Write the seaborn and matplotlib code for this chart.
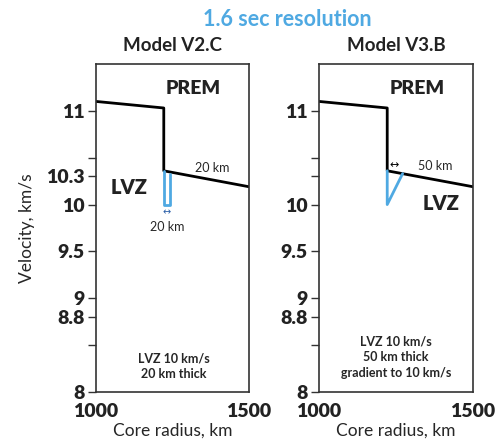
import matplotlib
matplotlib.use("Agg")
import matplotlib.pyplot as plt
import seaborn as sns

# PREM P-wave velocity around the inner core boundary
prem_radius = [1000, 1221.5, 1221.5, 1500]
prem_vel = [11.10, 11.03, 10.36, 10.19]

# Model V2.C: 20 km thick LVZ at 10 km/s
lvz_c_radius = [1221.5, 1221.5, 1241.5, 1241.5]
lvz_c_vel = [10.36, 10.0, 10.0, 10.33]

# Model V3.B: 50 km thick LVZ, gradient to 10 km/s
lvz_b_radius = [1221.5, 1221.5, 1271.5]
lvz_b_vel = [10.36, 10.0, 10.33]

ytick_vals = [8, 8.5, 8.8, 9, 9.5, 10, 10.3, 10.5, 11]
ytick_left = ["8", "", "8.8", "9", "9.5", "10", "10.3", "", "11"]
ytick_right = ["8", "", "8.8", "9", "9.5", "10", "", "", "11"]
xtick_vals = [1000, 1500]

sns.set_style("white")
plt.rcParams["font.family"] = ["Lato", "DejaVu Sans"]

blue = "#4fa9e2"
fig = plt.figure(figsize=(5, 4.44), dpi=100)
ax1 = fig.add_axes([0.192, 0.117, 0.306, 0.739])
ax2 = fig.add_axes([0.638, 0.117, 0.308, 0.739])

for ax, title, ylabels in [(ax1, "Model V2.C", ytick_left), (ax2, "Model V3.B", ytick_right)]:
    sns.lineplot(x=prem_radius, y=prem_vel, sort=False, estimator=None,
                 color="black", lw=2, ax=ax)
    ax.set_xlim(1000, 1500)
    ax.set_ylim(8, 11.5)
    ax.set_yticks(ytick_vals)
    ax.set_yticklabels(ylabels, fontsize=14, fontweight="heavy", color="#222222")
    ax.set_xticks(xtick_vals)
    ax.set_xticklabels([str(v) for v in xtick_vals], fontsize=14, fontweight="heavy",
                       color="#222222")
    ax.tick_params(axis="y", direction="out", length=6, width=1, color="#333333", pad=2, left=True)
    ax.tick_params(axis="x", length=0, pad=8)
    for s in ax.spines.values():
        s.set_color("#333333")
        s.set_linewidth(1.2)
    ax.set_title(title, fontsize=13.5, fontweight="bold", pad=9, color="#222222")
    ax.set_xlabel("Core radius, km", fontsize=12.5, labelpad=2)
    ax.text(1318, 11.24, "PREM", fontsize=14, fontweight="heavy", ha="center", va="center",
            color="#222222")

ax1.set_ylabel("Velocity, km/s", fontsize=12.5, labelpad=8)
ax2.set_ylabel("")

# left panel
sns.lineplot(x=lvz_c_radius, y=lvz_c_vel, sort=False, estimator=None, color=blue, lw=2, ax=ax1)
ax1.text(1108, 10.18, "LVZ", fontsize=14.5, fontweight="heavy", ha="center", va="center",
         color="#222222")
ax1.text(1380, 10.39, "20 km", fontsize=9, ha="center", va="center")
ax1.text(1232, 9.92, "↔", fontsize=7, color="#2b5fa8", ha="center", va="center",
         family="DejaVu Sans")
ax1.text(1233, 9.76, "20 km", fontsize=9, ha="center", va="center")
ax1.text(1253, 8.28, "LVZ 10 km/s\n20 km thick", fontsize=9, fontweight="bold",
         ha="center", va="center", linespacing=1.35)

# right panel
sns.lineplot(x=lvz_b_radius, y=lvz_b_vel, sort=False, estimator=None, color=blue, lw=2, ax=ax2)
ax2.text(1398, 10.01, "LVZ", fontsize=14.5, fontweight="heavy", ha="center", va="center",
         color="#222222")
ax2.text(1245, 10.42, "↔", fontsize=8, color="black", ha="center", va="center",
         family="DejaVu Sans")
ax2.text(1377, 10.41, "50 km", fontsize=9, ha="center", va="center")
ax2.text(1250, 8.37, "LVZ 10 km/s\n50 km thick\ngradient to 10 km/s", fontsize=9,
         fontweight="bold", ha="center", va="center", linespacing=1.35)

fig.text(0.574, 0.955, "1.6 sec resolution", fontsize=15.5, fontweight="bold",
         color=blue, ha="center", va="center")

fig.savefig("out.png", dpi=100)
